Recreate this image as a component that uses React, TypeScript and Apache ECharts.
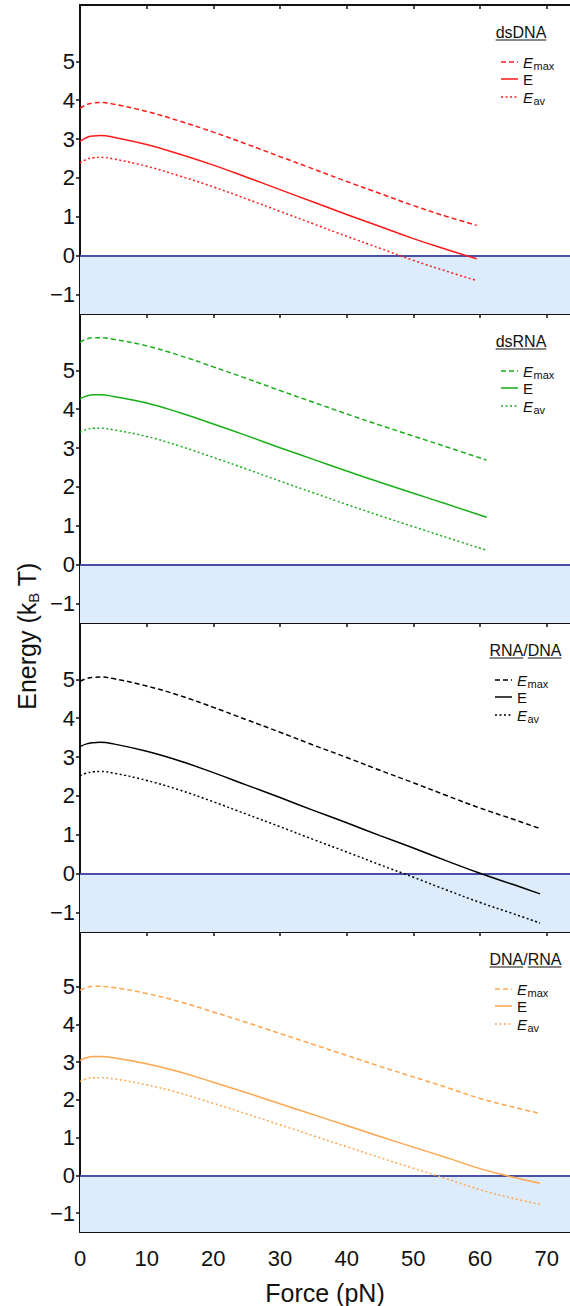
import React, { useEffect, useRef } from 'react';
import * as echarts from 'echarts';

// ---------- data ----------
const forceTicks = [0, 10, 20, 30, 40, 50, 60, 70];
const energyTicks = [-1, 0, 1, 2, 3, 4, 5];

const dsDNAForce = [0, 1, 2, 3, 5, 10, 15, 20, 25, 30, 35, 40, 45, 50, 55, 59.5];
const dsDNAEmax = [3.79, 3.89, 3.93, 3.94, 3.9, 3.71, 3.46, 3.18, 2.87, 2.55, 2.23, 1.91, 1.6, 1.29, 1.01, 0.78];
const dsDNAE = [2.94, 3.04, 3.08, 3.09, 3.05, 2.86, 2.61, 2.33, 2.02, 1.7, 1.38, 1.06, 0.75, 0.44, 0.16, -0.08];
const dsDNAEav = [2.39, 2.48, 2.52, 2.53, 2.49, 2.3, 2.05, 1.77, 1.46, 1.14, 0.82, 0.5, 0.19, -0.12, -0.4, -0.64];

const dsRNAForce = [0, 1, 2, 3, 5, 10, 15, 20, 25, 30, 35, 40, 45, 50, 55, 61];
const dsRNAEmax = [5.72, 5.81, 5.84, 5.84, 5.8, 5.63, 5.38, 5.09, 4.79, 4.48, 4.18, 3.88, 3.59, 3.31, 3.03, 2.69];
const dsRNAE = [4.27, 4.34, 4.37, 4.37, 4.33, 4.16, 3.91, 3.62, 3.32, 3.01, 2.71, 2.41, 2.12, 1.84, 1.56, 1.22];
const dsRNAEav = [3.41, 3.48, 3.51, 3.51, 3.47, 3.3, 3.05, 2.76, 2.46, 2.15, 1.85, 1.55, 1.26, 0.98, 0.7, 0.37];

const rnaDnaForce = [0, 1, 2, 3, 5, 10, 15, 20, 25, 30, 35, 40, 45, 50, 55, 60, 65, 69];
const rnaDnaEmax = [4.95, 5.02, 5.05, 5.06, 5.02, 4.83, 4.58, 4.28, 3.96, 3.64, 3.31, 2.99, 2.66, 2.34, 2.01, 1.69, 1.4, 1.16];
const rnaDnaE = [3.27, 3.34, 3.37, 3.38, 3.34, 3.15, 2.9, 2.6, 2.28, 1.96, 1.63, 1.31, 0.98, 0.66, 0.33, 0.01, -0.28, -0.52];
const rnaDnaEav = [2.52, 2.59, 2.62, 2.63, 2.59, 2.4, 2.15, 1.85, 1.53, 1.21, 0.88, 0.56, 0.23, -0.09, -0.42, -0.74, -1.03, -1.27];

const dnaRnaForce = [0, 1, 2, 3, 5, 10, 15, 20, 25, 30, 35, 40, 45, 50, 55, 60, 65, 69];
const dnaRnaEmax = [4.91, 4.98, 5.01, 5.01, 4.98, 4.82, 4.6, 4.33, 4.05, 3.76, 3.47, 3.18, 2.89, 2.61, 2.33, 2.04, 1.81, 1.64];
const dnaRnaE = [3.05, 3.12, 3.15, 3.15, 3.12, 2.96, 2.74, 2.47, 2.19, 1.9, 1.61, 1.32, 1.03, 0.75, 0.47, 0.18, -0.05, -0.21];
const dnaRnaEav = [2.49, 2.56, 2.59, 2.59, 2.56, 2.4, 2.18, 1.91, 1.63, 1.34, 1.05, 0.76, 0.47, 0.19, -0.09, -0.38, -0.61, -0.77];

const panelTitles = [
  [{ t: 'dsDNA', u: true }],
  [{ t: 'dsRNA', u: true }],
  [{ t: 'RNA', u: true }, { t: '/', u: false }, { t: 'DNA', u: true }],
  [{ t: 'DNA', u: true }, { t: '/', u: false }, { t: 'RNA', u: true }],
];
const panelColors = ['#ff1a1a', '#17ae17', '#000000', '#fda64e'];
const panelForces = [dsDNAForce, dsRNAForce, rnaDnaForce, dnaRnaForce];
const panelEmax = [dsDNAEmax, dsRNAEmax, rnaDnaEmax, dnaRnaEmax];
const panelE = [dsDNAE, dsRNAE, rnaDnaE, dnaRnaE];
const panelEav = [dsDNAEav, dsRNAEav, rnaDnaEav, dnaRnaEav];

// ---------- layout ----------
const FONT = '"Liberation Sans", Arial, Helvetica, sans-serif';
const LEFT = 80;
const TOPS = [5, 314, 623, 932];
const PH = 309;
const YMIN = -1.5;
const YMAX = 6.45;
const XMAX = 73.5;
const AXIS_COLOR = '#111111';
const SHADE = '#dcecfc';
const ZERO_LINE = '#4b4ea6';

const DASH_MAX = [5, 3];
const DASH_AV = [2, 2.5];

export default function App() {
  const ref = useRef<HTMLDivElement>(null);

  useEffect(() => {
    if (!ref.current) return;
    const chart = echarts.init(ref.current, null, { renderer: 'svg' });

    const canvas = document.createElement('canvas');
    const ctx = canvas.getContext('2d')!;
    const tw = (text: string, size: number, italic = false) => {
      ctx.font = `${italic ? 'italic ' : ''}${size}px "Liberation Sans"`;
      return ctx.measureText(text).width;
    };

    const grids: any[] = [];
    const xAxes: any[] = [];
    const yAxes: any[] = [];
    const series: any[] = [];
    const graphics: any[] = [];

    for (let i = 0; i < 4; i++) {
      const T = TOPS[i];
      const last = i === 3;
      grids.push({ left: LEFT, right: 0, top: T, height: PH, containLabel: false });
      const baseX = {
        type: 'value',
        gridIndex: i,
        min: 0,
        max: XMAX,
        splitLine: { show: false },
        axisLine: { show: true, onZero: false, lineStyle: { color: AXIS_COLOR, width: 2 } },
        axisTick: { show: true, inside: true, length: 4, customValues: forceTicks, lineStyle: { color: AXIS_COLOR, width: 1.5 } },
      };
      xAxes.push({
        ...baseX,
        position: 'bottom',
        axisLabel: {
          show: last,
          customValues: forceTicks,
          fontSize: 22,
          fontFamily: FONT,
          color: AXIS_COLOR,
          margin: 15,
        },
        name: last ? 'Force (pN)' : '',
        nameLocation: 'middle',
        nameGap: 48,
        nameTextStyle: { fontSize: 25, fontFamily: FONT, color: AXIS_COLOR },
      });
      xAxes.push({ ...baseX, position: 'top', axisLabel: { show: false } });
      yAxes.push({
        type: 'value',
        gridIndex: i,
        min: YMIN,
        max: YMAX,
        splitLine: { show: false },
        axisLine: { show: true, onZero: false, lineStyle: { color: AXIS_COLOR, width: 2 } },
        axisTick: { show: true, inside: false, length: 4, customValues: energyTicks, lineStyle: { color: AXIS_COLOR, width: 1.5 } },
        axisLabel: {
          customValues: energyTicks,
          fontSize: 22,
          fontFamily: FONT,
          color: AXIS_COLOR,
          margin: 5,
          formatter: (v: number) => (v < 0 ? '\u2212' + Math.abs(v) : String(v)),
        },
      });

      const color = panelColors[i];
      const xs = panelForces[i];
      const mk = (ys: number[]) => xs.map((x, k) => [x, ys[k]]);
      const common = {
        type: 'line',
        xAxisIndex: i * 2,
        yAxisIndex: i,
        showSymbol: false,
        symbol: 'none',
        smooth: 0.45,
        silent: true,
        z: 5,
      };
      series.push({
        ...common,
        name: 'shade' + i,
        data: [],
        markArea: {
          silent: true,
          itemStyle: { color: SHADE },
          data: [[{ yAxis: YMIN }, { yAxis: 0 }]],
          z: 1,
        },
        markLine: {
          silent: true,
          symbol: ['none', 'none'],
          label: { show: false },
          lineStyle: { color: ZERO_LINE, width: 1.8, type: 'solid' },
          data: [{ yAxis: 0 }],
        },
        z: 2,
      });
      series.push({ ...common, name: 'Emax' + i, data: mk(panelEmax[i]), lineStyle: { color, width: 1.5, type: DASH_MAX } });
      series.push({ ...common, name: 'E' + i, data: mk(panelE[i]), lineStyle: { color, width: 1.5, type: 'solid' } });
      series.push({ ...common, name: 'Eav' + i, data: mk(panelEav[i]), lineStyle: { color, width: 1.5, type: DASH_AV } });

      // panel title with underline
      const parts = panelTitles[i];
      const tsize = 16;
      const widths = parts.map((p) => tw(p.t, tsize));
      const total = widths.reduce((a, b) => a + b, 0);
      const cx = i < 2 ? 521 : 525.5;
      let px = cx - total / 2;
      const ty = T + 27;
      parts.forEach((p, k) => {
        graphics.push({
          type: 'text',
          x: px,
          y: ty,
          silent: true,
          style: {
            text: p.t, fontSize: tsize, fontFamily: FONT, fill: AXIS_COLOR,
            align: 'left', verticalAlign: 'middle', textAlign: 'left', textVerticalAlign: 'middle',
          },
        });
        if (p.u) {
          graphics.push({
            type: 'line',
            silent: true,
            shape: { x1: px, y1: ty + 8, x2: px + widths[k], y2: ty + 8 },
            style: { stroke: AXIS_COLOR, lineWidth: 1 },
          });
        }
        px += widths[k];
      });

      // legend rows
      const lx = i < 2 ? 501 : 495;
      const rows = [
        { y: T + 57, dash: DASH_MAX, italic: true, sub: 'max' },
        { y: T + 74, dash: null, italic: false, sub: '' },
        { y: T + 92, dash: DASH_AV, italic: true, sub: 'av' },
      ];
      rows.forEach((r) => {
        graphics.push({
          type: 'line',
          silent: true,
          shape: { x1: lx, y1: r.y, x2: lx + 17, y2: r.y },
          style: { stroke: color, lineWidth: 1.5, lineDash: r.dash || undefined },
        });
        const tx = lx + 22;
        graphics.push({
          type: 'text',
          x: tx,
          y: r.y,
          silent: true,
          style: {
            text: 'E', fontSize: 15, fontFamily: FONT, fontStyle: r.italic ? 'italic' : 'normal', fill: AXIS_COLOR,
            align: 'left', verticalAlign: 'middle', textAlign: 'left', textVerticalAlign: 'middle',
          },
        });
        if (r.sub) {
          const we = tw('E', 15, true);
          graphics.push({
            type: 'text',
            x: tx + we + 0.5,
            y: r.y + 4,
            silent: true,
            style: {
              text: r.sub, fontSize: 11, fontFamily: FONT, fill: AXIS_COLOR,
              align: 'left', verticalAlign: 'middle', textAlign: 'left', textVerticalAlign: 'middle',
            },
          });
        }
      });
    }

    // y-axis title (rotated)
    const w1 = tw('Energy (k', 25);
    const wB = tw('B', 15);
    const w2 = tw(' T)', 25);
    const tot = w1 + wB + w2;
    const mkT = (text: string, x: number, y: number, size: number) => ({
      type: 'text',
      x,
      y,
      silent: true,
      style: {
        text, fontSize: size, fontFamily: FONT, fill: AXIS_COLOR,
        align: 'left', verticalAlign: 'middle', textAlign: 'left', textVerticalAlign: 'middle',
      },
    });
    graphics.push({
      type: 'group',
      x: 27,
      y: 636,
      rotation: Math.PI / 2,
      silent: true,
      children: [
        mkT('Energy (k', -tot / 2, 0, 25),
        mkT('B', -tot / 2 + w1, 6, 15),
        mkT(' T)', -tot / 2 + w1 + wB, 0, 25),
      ],
    });

    chart.setOption({
      animation: false,
      backgroundColor: '#ffffff',
      grid: grids,
      xAxis: xAxes,
      yAxis: yAxes,
      series,
      graphic: graphics,
    });

    return () => chart.dispose();
  }, []);

  return (
    <div
      ref={ref}
      style={{ position: 'absolute', left: 0, top: 0, width: 570, height: 1306 }}
    />
  );
}
